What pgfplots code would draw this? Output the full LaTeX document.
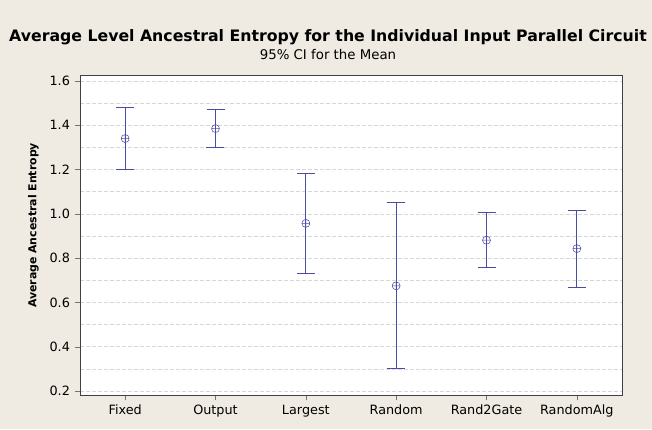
\documentclass[border=0pt]{standalone}
\usepackage{pgfplots}
\usepackage{pgfplotstable}
\pgfplotsset{compat=1.18}
\usepackage{fontspec}
\setmainfont{DejaVu Sans}
\definecolor{bg}{RGB}{239,235,226}
\definecolor{ci}{RGB}{75,75,165}
\definecolor{gridc}{RGB}{215,215,215}

% mean and half width of the 95% CI
\pgfplotstableread{
x y e
0 1.340 0.139
1 1.385 0.085
2 0.957 0.224
3 0.675 0.375
4 0.881 0.124
5 0.843 0.173
}\cidata

\begin{document}
\begin{tikzpicture}
% page = 652x429 px, 1px = 0.75pt, axis box lower left at px (80,395)
\fill[bg] (-60pt,-25.5pt) rectangle (429pt,296.25pt);
\path[use as bounding box] (-60pt,-25.5pt) rectangle (429pt,296.25pt);
\begin{axis}[
    at={(0pt,0pt)}, anchor=south west,
    scale only axis, width=406.5pt, height=240pt,
    xmin=-0.5, xmax=5.5,
    ymin=0.182, ymax=1.627,
    xtick={0,1,2,3,4,5},
    xticklabels={Fixed,Output,Largest,Random,Rand2Gate,RandomAlg},
    ytick={0.2,0.4,0.6,0.8,1.0,1.2,1.4,1.6},
    minor ytick={0.3,0.5,0.7,0.9,1.1,1.3,1.5},
    yticklabel style={/pgf/number format/.cd, fixed, fixed zerofill, precision=1},
    /pgf/number format/assume math mode=true,
    ticklabel style={font=\fontsize{9.6}{11}\selectfont},
    ymajorgrids, yminorgrids,
    major grid style={gridc, dash pattern=on 3pt off 1.5pt},
    minor grid style={gridc, dash pattern=on 3pt off 1.5pt},
    axis background/.style={fill=white},
    axis line style={black!75},
    tick align=outside, xtick pos=bottom, ytick pos=left,
    major tick length=4pt, minor tick length=0pt,
    tick style={black!55},
    ylabel={Average Ancestral Entropy},
    ylabel style={font=\fontsize{8.2}{10}\bfseries, at={(axis description cs:0,0.53)}, yshift=35pt, anchor=center},
]
\addplot[only marks, mark=oplus, mark size=3pt, color=ci,
    error bars/.cd, y dir=both, y explicit,
    error bar style={ci, line width=0.6pt},
    error mark options={rotate=90, mark size=6.75pt, ci, line width=0.6pt}]
    table[x=x, y=y, y error=e] {\cidata};
\end{axis}
\node[font=\fontsize{11.8}{13}\bfseries] at (186pt,268pt) {Average Level Ancestral Entropy for the Individual Input Parallel Circuit};
\node[font=\fontsize{10}{12}\selectfont] at (186pt,255pt) {95\% CI for the Mean};
\end{tikzpicture}
\end{document}
